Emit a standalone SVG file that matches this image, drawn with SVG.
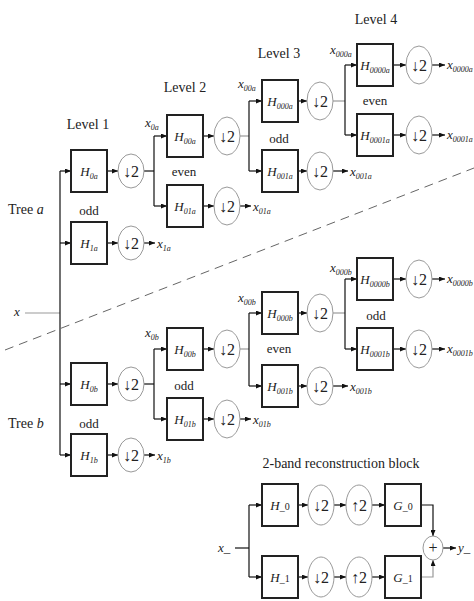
<svg xmlns="http://www.w3.org/2000/svg" width="474" height="601" viewBox="0 0 474 601">
<defs>
<marker id="ah" markerWidth="6" markerHeight="5" refX="6" refY="2.5" orient="auto" markerUnits="userSpaceOnUse"><path d="M0,0 L6,2.5 L0,5 Z" fill="#111"/></marker>
<style>
.box{fill:#fff;stroke:#222;stroke-width:2}
.ds{fill:#fff;stroke:#999;stroke-width:1}
.ln{stroke:#111;stroke-width:1.2;fill:none}
.lg{stroke:#999;stroke-width:1.2;fill:none}
.ar{marker-end:url(#ah)}
.t{font-family:"Liberation Serif","DejaVu Serif",serif;fill:#222}
.m{font-style:italic;font-size:13px}
.lv{font-size:14px}
.lb{font-size:13px}
.sub{font-size:8px}
.op{font-size:16px}
</style>
</defs>
<rect width="474" height="601" fill="#fff"/>
<g id="labels" class="t">
<text class="lv" x="88" y="129" text-anchor="middle">Level 1</text>
<text class="lv" x="185" y="92" text-anchor="middle">Level 2</text>
<text class="lv" x="279" y="58" text-anchor="middle">Level 3</text>
<text class="lv" x="376" y="24" text-anchor="middle">Level 4</text>
<text class="lv" x="8" y="214">Tree <tspan font-style="italic">a</tspan></text>
<text class="lv" x="8" y="428">Tree <tspan font-style="italic">b</tspan></text>
<text class="lb" x="89" y="215" text-anchor="middle">odd</text>
<text class="lb" x="184" y="176" text-anchor="middle">even</text>
<text class="lb" x="279" y="143" text-anchor="middle">odd</text>
<text class="lb" x="375" y="105" text-anchor="middle">even</text>
<text class="lb" x="89" y="428" text-anchor="middle">odd</text>
<text class="lb" x="184" y="390" text-anchor="middle">odd</text>
<text class="lb" x="279" y="353" text-anchor="middle">even</text>
<text class="lb" x="376" y="320" text-anchor="middle">odd</text>
<text class="lv" x="341" y="468" text-anchor="middle">2-band reconstruction block</text>
<text class="m" x="14" y="316">x</text>
<text class="m" x="145" y="127">x<tspan class="sub" dy="3">0a</tspan></text>
<text class="m" x="238" y="88">x<tspan class="sub" dy="3">00a</tspan></text>
<text class="m" x="330" y="54">x<tspan class="sub" dy="3">000a</tspan></text>
<text class="m" x="145" y="337">x<tspan class="sub" dy="3">0b</tspan></text>
<text class="m" x="238" y="302">x<tspan class="sub" dy="3">00b</tspan></text>
<text class="m" x="330" y="272">x<tspan class="sub" dy="3">000b</tspan></text>
<text class="m" x="157" y="248">x<tspan class="sub" dy="3">1a</tspan></text>
<text class="m" x="253" y="211">x<tspan class="sub" dy="3">01a</tspan></text>
<text class="m" x="350" y="176">x<tspan class="sub" dy="3">001a</tspan></text>
<text class="m" x="447" y="69">x<tspan class="sub" dy="3">0000a</tspan></text>
<text class="m" x="447" y="139">x<tspan class="sub" dy="3">0001a</tspan></text>
<text class="m" x="157" y="460">x<tspan class="sub" dy="3">1b</tspan></text>
<text class="m" x="253" y="424">x<tspan class="sub" dy="3">01b</tspan></text>
<text class="m" x="350" y="391">x<tspan class="sub" dy="3">001b</tspan></text>
<text class="m" x="447" y="283">x<tspan class="sub" dy="3">0000b</tspan></text>
<text class="m" x="447" y="353">x<tspan class="sub" dy="3">0001b</tspan></text>
<text class="m" x="218" y="552">x<tspan font-style="normal">_</tspan></text>
<text class="m" x="458" y="552">y<tspan font-style="normal">_</tspan></text>
</g>
<line x1="5" y1="350" x2="474" y2="168" stroke="#666" stroke-width="1" stroke-dasharray="9 6"/>
<g id="connectors">
<line class="lg" x1="25" y1="313" x2="60" y2="313"/>
<line class="ln" x1="60" y1="171" x2="60" y2="455"/>
<line class="ln ar" x1="60" y1="171" x2="71" y2="171"/>
<line class="ln ar" x1="60" y1="243" x2="71" y2="243"/>
<line class="ln ar" x1="60" y1="384" x2="71" y2="384"/>
<line class="ln ar" x1="60" y1="455" x2="71" y2="455"/>
<line class="ln ar" x1="107" y1="171" x2="118" y2="171"/>
<line class="ln ar" x1="107" y1="243" x2="118" y2="243"/>
<line class="ln ar" x1="107" y1="384" x2="118" y2="384"/>
<line class="ln ar" x1="107" y1="455" x2="118" y2="455"/>
<line class="ln" x1="144" y1="171" x2="154" y2="171"/>
<line class="ln ar" x1="144" y1="243" x2="155" y2="243"/>
<line class="ln" x1="144" y1="384" x2="154" y2="384"/>
<line class="ln ar" x1="144" y1="455" x2="155" y2="455"/>
<line class="ln" x1="154" y1="136" x2="154" y2="206"/>
<line class="ln" x1="154" y1="349" x2="154" y2="419"/>
<line class="ln ar" x1="154" y1="136" x2="167" y2="136"/>
<line class="ln ar" x1="154" y1="206" x2="167" y2="206"/>
<line class="ln ar" x1="154" y1="349" x2="167" y2="349"/>
<line class="ln ar" x1="154" y1="419" x2="167" y2="419"/>
<line class="ln ar" x1="203" y1="136" x2="214" y2="136"/>
<line class="ln ar" x1="203" y1="206" x2="214" y2="206"/>
<line class="ln ar" x1="203" y1="349" x2="214" y2="349"/>
<line class="ln ar" x1="203" y1="419" x2="214" y2="419"/>
<line class="lg" x1="240" y1="136" x2="249" y2="136"/>
<line class="ln ar" x1="240" y1="206" x2="251" y2="206"/>
<line class="lg" x1="240" y1="349" x2="249" y2="349"/>
<line class="ln ar" x1="240" y1="419" x2="251" y2="419"/>
<line class="ln" x1="249" y1="101" x2="249" y2="171"/>
<line class="ln" x1="249" y1="313" x2="249" y2="386"/>
<line class="ln ar" x1="249" y1="101" x2="262" y2="101"/>
<line class="ln ar" x1="249" y1="171" x2="262" y2="171"/>
<line class="ln ar" x1="249" y1="313" x2="262" y2="313"/>
<line class="ln ar" x1="249" y1="386" x2="262" y2="386"/>
<line class="ln ar" x1="298" y1="101" x2="307" y2="101"/>
<line class="ln ar" x1="298" y1="171" x2="307" y2="171"/>
<line class="ln ar" x1="298" y1="313" x2="307" y2="313"/>
<line class="ln ar" x1="298" y1="386" x2="307" y2="386"/>
<line class="lg" x1="333" y1="101" x2="345" y2="101"/>
<line class="ln ar" x1="333" y1="171" x2="348" y2="171"/>
<line class="lg" x1="333" y1="313" x2="345" y2="313"/>
<line class="ln ar" x1="333" y1="386" x2="348" y2="386"/>
<line class="ln" x1="345" y1="65" x2="345" y2="135"/>
<line class="ln" x1="345" y1="279" x2="345" y2="349"/>
<line class="ln ar" x1="345" y1="65" x2="357" y2="65"/>
<line class="ln ar" x1="345" y1="135" x2="357" y2="135"/>
<line class="ln ar" x1="345" y1="279" x2="357" y2="279"/>
<line class="ln ar" x1="345" y1="349" x2="357" y2="349"/>
<line class="ln ar" x1="393" y1="65" x2="406" y2="65"/>
<line class="ln ar" x1="393" y1="135" x2="406" y2="135"/>
<line class="ln ar" x1="393" y1="279" x2="406" y2="279"/>
<line class="ln ar" x1="393" y1="349" x2="406" y2="349"/>
<line class="ln ar" x1="432" y1="65" x2="445" y2="65"/>
<line class="ln ar" x1="432" y1="135" x2="445" y2="135"/>
<line class="ln ar" x1="432" y1="279" x2="445" y2="279"/>
<line class="ln ar" x1="432" y1="349" x2="445" y2="349"/>
<line class="ln" x1="235" y1="548" x2="249" y2="548"/>
<line class="ln" x1="249" y1="505" x2="249" y2="577"/>
<line class="ln ar" x1="249" y1="505" x2="262" y2="505"/>
<line class="ln ar" x1="249" y1="577" x2="262" y2="577"/>
<line class="ln ar" x1="298" y1="505" x2="308" y2="505"/>
<line class="ln ar" x1="298" y1="577" x2="308" y2="577"/>
<line class="ln ar" x1="334" y1="505" x2="346" y2="505"/>
<line class="ln ar" x1="334" y1="577" x2="346" y2="577"/>
<line class="ln ar" x1="372" y1="505" x2="385" y2="505"/>
<line class="ln ar" x1="372" y1="577" x2="385" y2="577"/>
<polyline class="ln ar" points="421,505 433,505 433,536"/>
<polyline class="lg ar" points="421,577 433,577 433,560"/>
<line class="ln ar" x1="443" y1="548" x2="456" y2="548"/>
</g>
<g id="H0a"><rect class="box" x="71" y="150" width="36" height="42"/><text class="t m" x="89" y="176" text-anchor="middle">H<tspan class="sub" dy="3">0a</tspan></text></g>
<g id="H1a"><rect class="box" x="71" y="222" width="36" height="42"/><text class="t m" x="89" y="248" text-anchor="middle">H<tspan class="sub" dy="3">1a</tspan></text></g>
<g id="H0b"><rect class="box" x="71" y="363" width="36" height="42"/><text class="t m" x="89" y="389" text-anchor="middle">H<tspan class="sub" dy="3">0b</tspan></text></g>
<g id="H1b"><rect class="box" x="71" y="434" width="36" height="42"/><text class="t m" x="89" y="460" text-anchor="middle">H<tspan class="sub" dy="3">1b</tspan></text></g>
<g id="H00a"><rect class="box" x="167" y="115" width="36" height="42"/><text class="t m" x="185" y="141" text-anchor="middle">H<tspan class="sub" dy="3">00a</tspan></text></g>
<g id="H01a"><rect class="box" x="167" y="185" width="36" height="42"/><text class="t m" x="185" y="211" text-anchor="middle">H<tspan class="sub" dy="3">01a</tspan></text></g>
<g id="H00b"><rect class="box" x="167" y="328" width="36" height="42"/><text class="t m" x="185" y="354" text-anchor="middle">H<tspan class="sub" dy="3">00b</tspan></text></g>
<g id="H01b"><rect class="box" x="167" y="398" width="36" height="42"/><text class="t m" x="185" y="424" text-anchor="middle">H<tspan class="sub" dy="3">01b</tspan></text></g>
<g id="H000a"><rect class="box" x="262" y="80" width="36" height="42"/><text class="t m" x="280" y="106" text-anchor="middle">H<tspan class="sub" dy="3">000a</tspan></text></g>
<g id="H001a"><rect class="box" x="262" y="150" width="36" height="42"/><text class="t m" x="280" y="176" text-anchor="middle">H<tspan class="sub" dy="3">001a</tspan></text></g>
<g id="H000b"><rect class="box" x="262" y="292" width="36" height="42"/><text class="t m" x="280" y="318" text-anchor="middle">H<tspan class="sub" dy="3">000b</tspan></text></g>
<g id="H001b"><rect class="box" x="262" y="365" width="36" height="42"/><text class="t m" x="280" y="391" text-anchor="middle">H<tspan class="sub" dy="3">001b</tspan></text></g>
<g id="H0000a"><rect class="box" x="357" y="44" width="36" height="42"/><text class="t m" x="375" y="70" text-anchor="middle">H<tspan class="sub" dy="3">0000a</tspan></text></g>
<g id="H0001a"><rect class="box" x="357" y="114" width="36" height="42"/><text class="t m" x="375" y="140" text-anchor="middle">H<tspan class="sub" dy="3">0001a</tspan></text></g>
<g id="H0000b"><rect class="box" x="357" y="258" width="36" height="42"/><text class="t m" x="375" y="284" text-anchor="middle">H<tspan class="sub" dy="3">0000b</tspan></text></g>
<g id="H0001b"><rect class="box" x="357" y="328" width="36" height="42"/><text class="t m" x="375" y="354" text-anchor="middle">H<tspan class="sub" dy="3">0001b</tspan></text></g>
<g id="Hr0"><rect class="box" x="262" y="484" width="36" height="42"/><text class="t m" x="280" y="510" text-anchor="middle">H<tspan font-size="10" font-style="normal">_0</tspan></text></g>
<g id="Hr1"><rect class="box" x="262" y="556" width="36" height="42"/><text class="t m" x="280" y="582" text-anchor="middle">H<tspan font-size="10" font-style="normal">_1</tspan></text></g>
<g id="Gr0"><rect class="box" x="385" y="484" width="36" height="42"/><text class="t m" x="403" y="510" text-anchor="middle">G<tspan font-size="10" font-style="normal">_0</tspan></text></g>
<g id="Gr1"><rect class="box" x="385" y="556" width="36" height="42"/><text class="t m" x="403" y="582" text-anchor="middle">G<tspan font-size="10" font-style="normal">_1</tspan></text></g>
<g id="D1a0"><ellipse class="ds" cx="131" cy="171" rx="13" ry="17"/><text class="t op" x="131" y="177" text-anchor="middle">↓2</text></g>
<g id="D1a1"><ellipse class="ds" cx="131" cy="243" rx="13" ry="17"/><text class="t op" x="131" y="249" text-anchor="middle">↓2</text></g>
<g id="D1b0"><ellipse class="ds" cx="131" cy="384" rx="13" ry="17"/><text class="t op" x="131" y="390" text-anchor="middle">↓2</text></g>
<g id="D1b1"><ellipse class="ds" cx="131" cy="455" rx="13" ry="17"/><text class="t op" x="131" y="461" text-anchor="middle">↓2</text></g>
<g id="D2a0"><ellipse class="ds" cx="227" cy="136" rx="13" ry="19"/><text class="t op" x="227" y="142" text-anchor="middle">↓2</text></g>
<g id="D2a1"><ellipse class="ds" cx="227" cy="206" rx="13" ry="19"/><text class="t op" x="227" y="212" text-anchor="middle">↓2</text></g>
<g id="D2b0"><ellipse class="ds" cx="227" cy="349" rx="13" ry="19"/><text class="t op" x="227" y="355" text-anchor="middle">↓2</text></g>
<g id="D2b1"><ellipse class="ds" cx="227" cy="419" rx="13" ry="19"/><text class="t op" x="227" y="425" text-anchor="middle">↓2</text></g>
<g id="D3a0"><ellipse class="ds" cx="320" cy="101" rx="13" ry="19"/><text class="t op" x="320" y="107" text-anchor="middle">↓2</text></g>
<g id="D3a1"><ellipse class="ds" cx="320" cy="171" rx="13" ry="19"/><text class="t op" x="320" y="177" text-anchor="middle">↓2</text></g>
<g id="D3b0"><ellipse class="ds" cx="320" cy="313" rx="13" ry="19"/><text class="t op" x="320" y="319" text-anchor="middle">↓2</text></g>
<g id="D3b1"><ellipse class="ds" cx="320" cy="386" rx="13" ry="19"/><text class="t op" x="320" y="392" text-anchor="middle">↓2</text></g>
<g id="D4a0"><ellipse class="ds" cx="419" cy="65" rx="13" ry="19"/><text class="t op" x="419" y="71" text-anchor="middle">↓2</text></g>
<g id="D4a1"><ellipse class="ds" cx="419" cy="135" rx="13" ry="19"/><text class="t op" x="419" y="141" text-anchor="middle">↓2</text></g>
<g id="D4b0"><ellipse class="ds" cx="419" cy="279" rx="13" ry="19"/><text class="t op" x="419" y="285" text-anchor="middle">↓2</text></g>
<g id="D4b1"><ellipse class="ds" cx="419" cy="349" rx="13" ry="19"/><text class="t op" x="419" y="355" text-anchor="middle">↓2</text></g>
<g id="Dr0"><ellipse class="ds" cx="321" cy="505" rx="13" ry="20"/><text class="t op" x="321" y="511" text-anchor="middle">↓2</text></g>
<g id="Dr1"><ellipse class="ds" cx="321" cy="577" rx="13" ry="20"/><text class="t op" x="321" y="583" text-anchor="middle">↓2</text></g>
<g id="Ur0"><ellipse class="ds" cx="359" cy="505" rx="13" ry="20"/><text class="t op" x="359" y="511" text-anchor="middle">↑2</text></g>
<g id="Ur1"><ellipse class="ds" cx="359" cy="577" rx="13" ry="20"/><text class="t op" x="359" y="583" text-anchor="middle">↑2</text></g>
<g id="sum"><ellipse class="ds" cx="433" cy="548" rx="10" ry="12"/><text class="t op" x="433" y="553" text-anchor="middle">+</text></g>
</svg>
